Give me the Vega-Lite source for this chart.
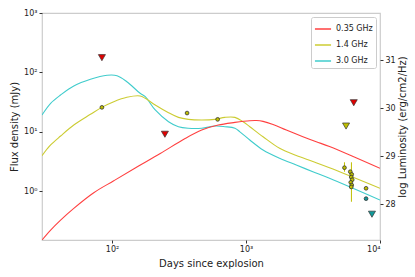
{
  "$schema": "https://vega.github.io/schema/vega-lite/v6.json",
  "width": 338,
  "height": 227,
  "autosize": "none",
  "padding": {"left": 42, "top": 13, "right": 35, "bottom": 37},
  "background": "white",
  "config": {
    "font": "DejaVu Sans",
    "view": {"stroke": "#cccccc", "strokeWidth": 1.2},
    "axis": {"grid": false, "domain": false, "tickColor": "#333333", "tickSize": 3, "labelFontSize": 8, "labelColor": "#222222", "titleFontSize": 10, "titleFontWeight": "normal", "titleColor": "#222222", "labelPadding": 2}
  },
  "datasets": {
    "curves": [
      {"band": "3.0 GHz", "t": 30, "flux": 19.2}, {"band": "3.0 GHz", "t": 34.8, "flux": 30.2}, {"band": "3.0 GHz", "t": 41.3, "flux": 41.7}, {"band": "3.0 GHz", "t": 51.8, "flux": 59.0}, {"band": "3.0 GHz", "t": 69, "flux": 76.5}, {"band": "3.0 GHz", "t": 91.8, "flux": 89.4}, {"band": "3.0 GHz", "t": 109, "flux": 87.9}, {"band": "3.0 GHz", "t": 129, "flux": 69.7}, {"band": "3.0 GHz", "t": 162, "flux": 44.5}, {"band": "3.0 GHz", "t": 177, "flux": 39.0}, {"band": "3.0 GHz", "t": 210, "flux": 23.3}, {"band": "3.0 GHz", "t": 264, "flux": 14.8}, {"band": "3.0 GHz", "t": 313, "flux": 12.2}, {"band": "3.0 GHz", "t": 371, "flux": 11.5}, {"band": "3.0 GHz", "t": 467, "flux": 11.5}, {"band": "3.0 GHz", "t": 586, "flux": 12.5}, {"band": "3.0 GHz", "t": 695, "flux": 12.2}, {"band": "3.0 GHz", "t": 826, "flux": 11.5}, {"band": "3.0 GHz", "t": 900, "flux": 10.0}, {"band": "3.0 GHz", "t": 1067, "flux": 7.28}, {"band": "3.0 GHz", "t": 1340, "flux": 4.94}, {"band": "3.0 GHz", "t": 1782, "flux": 3.58}, {"band": "3.0 GHz", "t": 2372, "flux": 2.76}, {"band": "3.0 GHz", "t": 3153, "flux": 2.13}, {"band": "3.0 GHz", "t": 4198, "flux": 1.65}, {"band": "3.0 GHz", "t": 10000, "flux": 0.71},
      {"band": "1.4 GHz", "t": 30, "flux": 3.96}, {"band": "1.4 GHz", "t": 34.8, "flux": 6.0}, {"band": "1.4 GHz", "t": 41.3, "flux": 8.5}, {"band": "1.4 GHz", "t": 51.8, "flux": 13.0}, {"band": "1.4 GHz", "t": 69, "flux": 19.7}, {"band": "1.4 GHz", "t": 83.7, "flux": 25.8}, {"band": "1.4 GHz", "t": 103, "flux": 32.1}, {"band": "1.4 GHz", "t": 129, "flux": 38.1}, {"band": "1.4 GHz", "t": 162, "flux": 40.1}, {"band": "1.4 GHz", "t": 177, "flux": 36.6}, {"band": "1.4 GHz", "t": 210, "flux": 28.3}, {"band": "1.4 GHz", "t": 264, "flux": 21.0}, {"band": "1.4 GHz", "t": 313, "flux": 17.5}, {"band": "1.4 GHz", "t": 371, "flux": 16.2}, {"band": "1.4 GHz", "t": 467, "flux": 15.8}, {"band": "1.4 GHz", "t": 586, "flux": 16.2}, {"band": "1.4 GHz", "t": 695, "flux": 17.5}, {"band": "1.4 GHz", "t": 826, "flux": 17.5}, {"band": "1.4 GHz", "t": 951, "flux": 14.8}, {"band": "1.4 GHz", "t": 1067, "flux": 12.2}, {"band": "1.4 GHz", "t": 1340, "flux": 8.27}, {"band": "1.4 GHz", "t": 1782, "flux": 5.28}, {"band": "1.4 GHz", "t": 2372, "flux": 3.99}, {"band": "1.4 GHz", "t": 3153, "flux": 3.16}, {"band": "1.4 GHz", "t": 4198, "flux": 2.48}, {"band": "1.4 GHz", "t": 10000, "flux": 1.12},
      {"band": "0.35 GHz", "t": 30, "flux": 0.151}, {"band": "0.35 GHz", "t": 34.8, "flux": 0.222}, {"band": "0.35 GHz", "t": 41.3, "flux": 0.327}, {"band": "0.35 GHz", "t": 51.8, "flux": 0.515}, {"band": "0.35 GHz", "t": 73, "flux": 0.944}, {"band": "0.35 GHz", "t": 103, "flux": 1.5}, {"band": "0.35 GHz", "t": 149, "flux": 2.46}, {"band": "0.35 GHz", "t": 229, "flux": 4.31}, {"band": "0.35 GHz", "t": 351, "flux": 7.71}, {"band": "0.35 GHz", "t": 467, "flux": 10.7}, {"band": "0.35 GHz", "t": 620, "flux": 13.0}, {"band": "0.35 GHz", "t": 826, "flux": 14.4}, {"band": "0.35 GHz", "t": 1067, "flux": 15.4}, {"band": "0.35 GHz", "t": 1197, "flux": 15.5}, {"band": "0.35 GHz", "t": 1340, "flux": 15.0}, {"band": "0.35 GHz", "t": 1591, "flux": 13.3}, {"band": "0.35 GHz", "t": 2000, "flux": 10.7}, {"band": "0.35 GHz", "t": 2658, "flux": 8.27}, {"band": "0.35 GHz", "t": 3342, "flux": 6.81}, {"band": "0.35 GHz", "t": 4198, "flux": 5.66}, {"band": "0.35 GHz", "t": 10000, "flux": 2.43}
    ],
    "det": [
      {"band": "1.4 GHz", "t": 84, "flux": 25.8}, {"band": "1.4 GHz", "t": 363, "flux": 20.7}, {"band": "1.4 GHz", "t": 614, "flux": 16.2}, {"band": "1.4 GHz", "t": 5430, "flux": 2.49},
      {"band": "1.4 GHz", "t": 6000, "flux": 2.13}, {"band": "1.4 GHz", "t": 6150, "flux": 1.92}, {"band": "1.4 GHz", "t": 6100, "flux": 1.73}, {"band": "1.4 GHz", "t": 6200, "flux": 1.56}, {"band": "1.4 GHz", "t": 6050, "flux": 1.41}, {"band": "1.4 GHz", "t": 6150, "flux": 1.27}, {"band": "1.4 GHz", "t": 6100, "flux": 1.18},
      {"band": "1.4 GHz", "t": 7870, "flux": 1.12}, {"band": "3.0 GHz", "t": 7870, "flux": 0.75}
    ],
    "err": [
      {"t": 5430, "lo": 2.13, "hi": 3.07}, {"t": 6120, "lo": 0.665, "hi": 3.07}
    ],
    "lim": [
      {"band": "0.35 GHz", "t": 84, "flux": 177}, {"band": "0.35 GHz", "t": 248, "flux": 9.1}, {"band": "0.35 GHz", "t": 6370, "flux": 30.9}, {"band": "1.4 GHz", "t": 5580, "flux": 12.5}, {"band": "3.0 GHz", "t": 8710, "flux": 0.41}
    ],
    "lum": [{"t": 1000, "L": 28}, {"t": 1000, "L": 31}]
  },
  "layer": [
    {
      "layer": [
        {
          "data": {"name": "curves"},
          "mark": {"type": "line", "strokeWidth": 1.1, "interpolate": "catmull-rom", "clip": true},
          "encoding": {
            "x": {"field": "t", "type": "quantitative", "scale": {"type": "log", "domain": [30, 10000], "nice": false}, "axis": {"values": [100, 1000, 10000], "labelExpr": "datum.value == 100 ? '10²' : datum.value == 1000 ? '10³' : '10⁴'", "title": "Days since explosion", "titlePadding": 5}},
            "y": {"field": "flux", "type": "quantitative", "scale": {"type": "log", "domain": [0.151, 1000], "nice": false}, "axis": {"values": [1, 10, 100, 1000], "labelExpr": "datum.value == 1 ? '10⁰' : datum.value == 10 ? '10¹' : datum.value == 100 ? '10²' : '10³'", "title": "Flux density (mJy)", "titlePadding": 4}},
            "color": {"field": "band", "type": "nominal", "scale": {"domain": ["0.35 GHz", "1.4 GHz", "3.0 GHz"], "range": ["#ff4040", "#cccc33", "#40cccc"]}, "legend": {"title": null, "orient": "top-right", "offset": 4, "symbolType": "stroke", "symbolSize": 260, "symbolStrokeWidth": 1.5, "labelFontSize": 8, "labelColor": "#222222", "strokeColor": "#cccccc", "fillColor": "white", "padding": 3, "cornerRadius": 2, "rowPadding": 3, "labelOffset": 4}},
            "detail": {"field": "band"}
          }
        },
        {
          "data": {"name": "err"},
          "mark": {"type": "rule", "stroke": "#bfbf00", "color": "#bfbf00", "strokeWidth": 1},
          "encoding": {
            "x": {"field": "t", "type": "quantitative"},
            "y": {"field": "lo", "type": "quantitative"},
            "y2": {"field": "hi"}
          }
        },
        {
          "data": {"name": "det"},
          "mark": {"type": "point", "shape": "circle", "filled": true, "size": 14, "stroke": "#333333", "strokeWidth": 0.8, "opacity": 1},
          "encoding": {
            "x": {"field": "t", "type": "quantitative"},
            "y": {"field": "flux", "type": "quantitative"},
            "fill": {"field": "band", "type": "nominal", "scale": {"domain": ["0.35 GHz", "1.4 GHz", "3.0 GHz"], "range": ["#e00000", "#bfbf00", "#109a9a"]}, "legend": null}
          }
        },
        {
          "data": {"name": "lim"},
          "mark": {"type": "point", "shape": "triangle-down", "filled": true, "size": 50, "stroke": "#333333", "strokeWidth": 0.7, "opacity": 1},
          "encoding": {
            "x": {"field": "t", "type": "quantitative"},
            "y": {"field": "flux", "type": "quantitative"},
            "fill": {"field": "band", "type": "nominal", "legend": null}
          }
        }
      ]
    },
    {
      "data": {"name": "lum"},
      "mark": {"type": "point", "opacity": 0},
      "encoding": {
        "x": {"field": "t", "type": "quantitative"},
        "y": {"field": "L", "type": "quantitative", "scale": {"domain": [27.25, 31.98], "nice": false, "zero": false}, "axis": {"orient": "right", "values": [28, 29, 30, 31], "format": "d", "title": "log Luminosity (erg/cm2/Hz)", "titleAngle": 270, "titlePadding": 12}}
      }
    }
  ],
  "resolve": {"scale": {"y": "independent"}, "axis": {"y": "independent"}}
}
